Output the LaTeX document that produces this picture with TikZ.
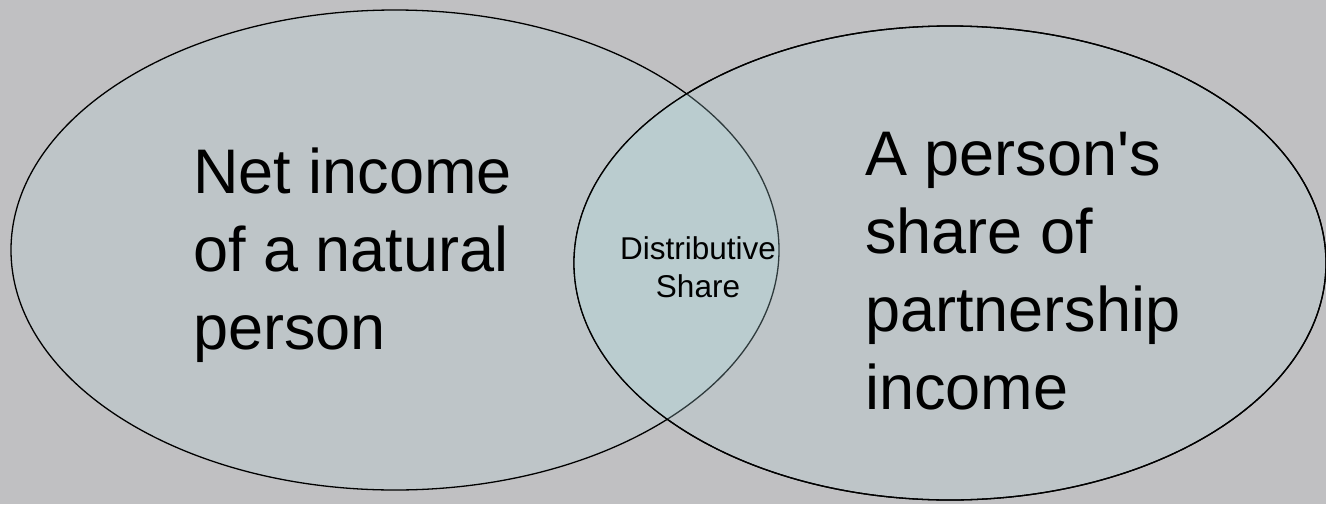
\documentclass[tikz,border=0pt]{standalone}
\usepackage{fontspec}
\setmainfont{Liberation Sans}[Ligatures=TeXOff]
\definecolor{bgcol}{HTML}{C0C0C2}
\definecolor{ellfill}{HTML}{BEC5C8}
\definecolor{overlapfill}{HTML}{BACCCF}
\definecolor{hiddenline}{HTML}{2E3A3C}
\tikzset{
  ellline/.style={draw=black, line width=1.3pt},
  bigtext/.style={inner sep=0pt, align=left, anchor=north west, font=\fontsize{63}{78}\selectfont},
  smalltext/.style={inner sep=0pt, align=center, anchor=north, font=\fontsize{31.5}{38}\selectfont}
}
\begin{document}
\begin{tikzpicture}[x=1pt,y=-1pt]
\fill[bgcol] (0,0) rectangle (1326,504);
\useasboundingbox (0,0) rectangle (1326,504);
% left ellipse
\path[fill=ellfill, ellline] (395,250) ellipse [x radius=384pt, y radius=240pt];
% right ellipse
\path[fill=ellfill, ellline] (950,263) ellipse [x radius=376pt, y radius=237pt];
% overlap
\begin{scope}
  \clip (395,250) ellipse [x radius=384pt, y radius=240pt];
  \fill[overlapfill] (950,263) ellipse [x radius=376pt, y radius=237pt];
\end{scope}
\begin{scope}
  \clip (950,263) ellipse [x radius=376pt, y radius=237pt];
  \draw[hiddenline, line width=1.3pt] (395,250) ellipse [x radius=384pt, y radius=240pt];
\end{scope}
\draw[ellline] (950,263) ellipse [x radius=376pt, y radius=237pt];
% texts
\node[bigtext] (lefttxt) at (193,148) {Net income\\of a natural\\person};
\node[bigtext] (righttxt) at (865,132) {A person's\\share of\\partnership\\income};
\node[smalltext] (midtxt) at (698,236.5) {Distributive\\Share};
\end{tikzpicture}
\end{document}
